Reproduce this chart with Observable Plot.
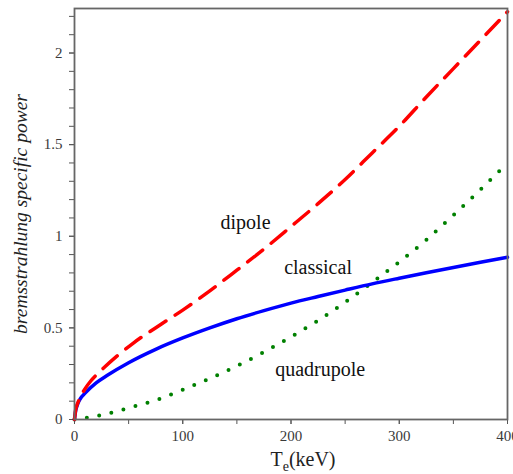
<!DOCTYPE html>
<html><head><meta charset="utf-8">
<script src="https://cdn.jsdelivr.net/npm/d3@7"></script>
<script src="https://cdn.jsdelivr.net/npm/@observablehq/plot@0.6"></script>
<style>body{margin:0;background:#fff} svg{display:block} svg text{font-family:"Liberation Serif","Times New Roman",serif !important}</style>
</head><body><div id="chart"></div>
<script>
// Te (keV) sample positions and read-off values
const classicalT = [0, 1, 3, 5, 10, 20, 30, 50, 75, 100, 125, 150, 175, 200, 225, 250, 275, 300, 325, 350, 375, 400];
const classicalP = [0, 0.045, 0.085, 0.11, 0.145, 0.2, 0.24, 0.31, 0.383, 0.445, 0.5, 0.55, 0.594, 0.635, 0.671, 0.706, 0.74, 0.771, 0.801, 0.83, 0.858, 0.885];

const dipoleT = [0, 1, 3, 5, 10, 15, 25, 40, 55, 80, 100, 125, 150, 175, 200, 225, 250, 275, 300, 325, 350, 375, 400];
const dipoleP = [0, 0.05, 0.09, 0.118, 0.17, 0.21, 0.27, 0.35, 0.42, 0.52, 0.597, 0.702, 0.815, 0.93, 1.053, 1.178, 1.31, 1.455, 1.6, 1.76, 1.915, 2.07, 2.225];

const quadT = [0, 25, 50, 75, 100, 125, 150, 175, 200, 225, 250, 275, 300, 325, 350, 375, 400];
const quadP = [0, 0.024, 0.063, 0.105, 0.162, 0.224, 0.292, 0.368, 0.451, 0.54, 0.64, 0.748, 0.86, 0.98, 1.115, 1.255, 1.4];

const xLabelTicks = [0, 100, 200, 300, 400];
const xMinorTicks = [0, 50, 100, 150, 200, 250, 300, 350, 400];
const yLabelTicks = [0, 0.5, 1, 1.5, 2];
const yMinorTicks = d3.range(0, 23).map(i => +(i * 0.1).toFixed(1));

const seriesNames = ["dipole", "classical", "quadrupole"];
const labelT = [158, 225, 227];
const labelP = [1.073, 0.827, 0.275];

const toRows = (T, P) => T.map((t, i) => ({T: t, P: P[i]}));
const dipole = toRows(dipoleT, dipoleP);
const classical = toRows(classicalT, classicalP);
const quad = toRows(quadT, quadP);
const labels = seriesNames.map((n, i) => ({name: n, T: labelT[i], P: labelP[i]}));

const serif = "Liberation Serif, Times New Roman, serif";
const chart = Plot.plot({
  width: 513, height: 474,
  marginLeft: 74, marginRight: 6, marginTop: 8, marginBottom: 55,
  style: {fontFamily: serif, fontSize: "15px", color: "#3a3a3a", background: "white"},
  x: {domain: [0, 400]},
  y: {domain: [0, 2.243]},
  marks: [
    Plot.axisX({ticks: xMinorTicks, tickFormat: () => "", tickSize: 5, label: null, stroke: "#555"}),
    Plot.axisX({ticks: xLabelTicks, tickFormat: d => String(d), tickSize: 5, tickPadding: 6, label: null, stroke: "#555", fontSize: 15}),
    Plot.axisY({ticks: yMinorTicks, tickFormat: () => "", tickSize: 5, label: null, stroke: "#555"}),
    Plot.axisY({ticks: yLabelTicks, tickFormat: d => String(d), tickSize: 5, tickPadding: 7, label: null, stroke: "#555", fontSize: 15}),
    Plot.line(quad, {x: "T", y: "P", stroke: "#008000", strokeWidth: 4, strokeDasharray: "0,12.5", strokeLinecap: "round", curve: "monotone-x"}),
    Plot.line(classical, {x: "T", y: "P", stroke: "#0000ff", strokeWidth: 3.5, curve: "monotone-x"}),
    Plot.line(dipole, {x: "T", y: "P", stroke: "#ff0000", strokeWidth: 3.5, strokeDasharray: "19,11", strokeLinecap: "round", curve: "monotone-x"}),
    Plot.text(labels, {x: "T", y: "P", text: "name", fontSize: 20, fill: "#111"}),
    Plot.frame({stroke: "#666", strokeWidth: 1.8})
  ]
});
document.getElementById("chart").append(chart);

const svg = d3.select(chart);
const xl = svg.append("text")
  .attr("x", 303).attr("y", 466)
  .attr("text-anchor", "middle")
  .attr("font-size", 20).attr("fill", "#222");
xl.append("tspan").text("T");
xl.append("tspan").attr("font-size", 14).attr("dy", 5).text("e");
xl.append("tspan").attr("dy", -5).text("(keV)");

svg.append("text")
  .attr("transform", "translate(27,214) rotate(-90)")
  .attr("text-anchor", "middle")
  .attr("font-style", "italic")
  .attr("font-size", 19.5).attr("fill", "#222")
  .text("bremsstrahlung specific power");
svg.selectAll("text").style("font-family", serif);
</script>
</body></html>
